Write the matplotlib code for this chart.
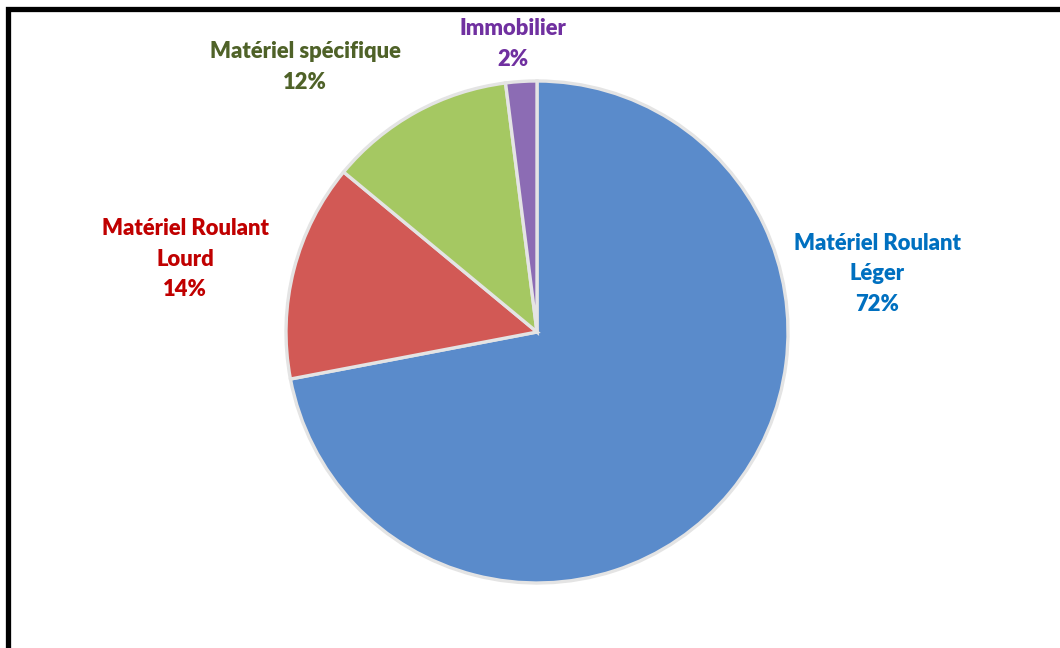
import matplotlib.pyplot as plt
from matplotlib.patches import Rectangle

labels = ['Matériel Roulant\nLéger', 'Matériel Roulant\nLourd', 'Matériel spécifique', 'Immobilier']
shares = [72, 14, 12, 2]
colors = ['#5a8bcb', '#d25955', '#a5c862', '#8c6cb4']
text_colors = ['#0070c0', '#c00000', '#4f6228', '#7030a0']
# label anchors in pixels (x, y from top)
label_pos = [(877, 274), (185, 259), (305, 67), (513, 44)]

W, H = 1060, 648
fig = plt.figure(figsize=(W / 100, H / 100), dpi=100)
ax = fig.add_axes([0, 0, 1, 1])

cx, cy, r = 537, H - 332, 251
wedges, _ = ax.pie(shares, colors=colors, startangle=90, counterclock=False,
                   center=(cx, cy), radius=r, explode=[0, 0, 0, 0.012],
                   wedgeprops=dict(edgecolor='#e4e4e4', linewidth=2.4))
ax.set_xlim(0, W)
ax.set_ylim(0, H)
ax.set_aspect('equal')
ax.axis('off')

for lab, val, col, (x, y) in zip(labels, shares, text_colors, label_pos):
    ax.text(x, H - y, f'{lab}\n{val}%', color=col, ha='center', va='center',
            fontsize=15.8, fontweight='heavy', family='Lato', linespacing=1.55)

# black frame (right and bottom edges fall outside the picture)
fig.patches.append(Rectangle((7.5 / W, -0.1), 1.2, 1.1 - 9.5 / H, transform=fig.transFigure,
                             fill=False, edgecolor='black', linewidth=3.8))

fig.savefig('out.png', dpi=100)
